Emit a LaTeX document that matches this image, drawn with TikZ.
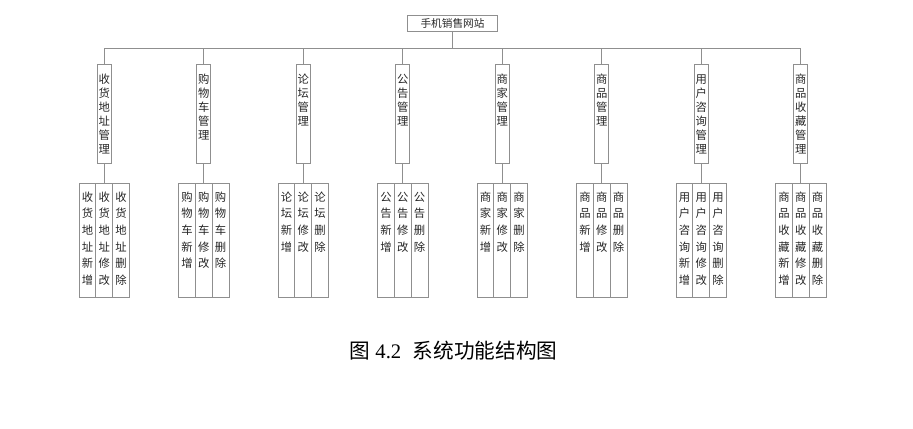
\documentclass[tikz,border=0pt]{standalone}
\usepackage{fontspec}
\setmainfont{Liberation Serif}
\newfontfamily\cjk{Noto Sans CJK SC}
\usetikzlibrary{positioning}
\XeTeXlinebreaklocale "zh"
\XeTeXlinebreakskip=0pt plus 1pt
\definecolor{linegray}{HTML}{8F8F8F}
\definecolor{textgray}{HTML}{262626}
\tikzset{
root/.style={draw=linegray,line width=.6pt,text=textgray,font=\cjk\fontsize{8}{10}\selectfont,minimum width=67.5pt,minimum height=12pt,inner sep=0pt},
module/.style={draw=linegray,line width=.6pt,text=textgray,font=\cjk\fontsize{8.5}{10.5}\selectfont,text width=9pt,align=center,inner xsep=.75pt,inner ysep=0pt,text height=14pt,text depth=60.25pt,anchor=north},
leaf/.style={draw=linegray,line width=.6pt,text=textgray,font=\cjk\fontsize{8.5}{12.5}\selectfont,text width=9pt,align=center,inner xsep=1.8pt,inner ysep=0pt,outer sep=0pt,text height=13pt,text depth=72.1pt},
caption/.style={text=black,font=\fontsize{15.5}{18}\selectfont},
link/.style={draw=linegray,line width=.6pt}
}
\begin{document}
\begin{tikzpicture}
\useasboundingbox (-339.375pt,17.25pt) rectangle (345.375pt,-303.75pt);
\node[root](root){手机销售网站};
\foreach \i/\p in {1/收货地址,2/购物车,3/论坛,4/公告,5/商家,6/商品,7/用户咨询,8/商品收藏}{
\node[module](m\i) at ({(\i-4.5)*74.625pt},-31pt){\p{}管理};
\node[leaf,below=14.8pt of m\i](sub\i b){\p{}修改};
\node[leaf,left=0pt of sub\i b](sub\i a){\p{}新增};
\node[leaf,right=0pt of sub\i b](sub\i c){\p{}删除};
\draw[link](root.south)--++(0,-12.5pt)-|(m\i.north);
\draw[link](m\i.south)--(sub\i b.north);
}
\node[caption](cap) at (0.75pt,-245.8pt){{\cjk 图} 4.2\hspace{.55em}{\cjk 系统功能结构图}};
\end{tikzpicture}
\end{document}
